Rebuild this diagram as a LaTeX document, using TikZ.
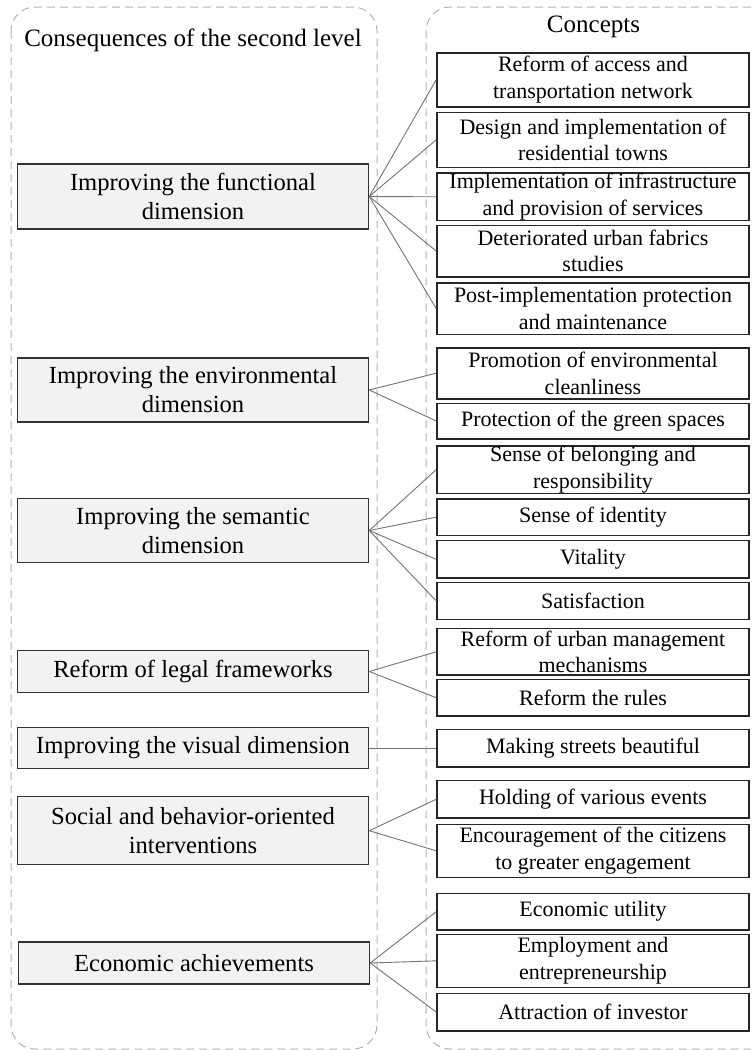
\documentclass[tikz,border=0pt]{standalone}
\usepackage{fontspec}
\setmainfont{Liberation Serif}

\begin{document}
\begin{tikzpicture}[x=0.5pt,y=-0.5pt,
    lvl/.style={draw=black!80,fill=black!5,line width=0.75pt,minimum width=175.5pt,inner xsep=2pt,inner ysep=0pt,align=center,font=\fontsize{12.3}{14.5}\selectfont},
    cpt/.style={draw=black!85,line width=0.8pt,minimum width=156pt,inner xsep=2pt,inner ysep=0pt,align=center,font=\fontsize{11}{13.3}\selectfont},
    head/.style={font=\fontsize{12.5}{15}\selectfont},
    link/.style={draw=black!55,line width=0.45pt},
    frame/.style={draw=black!30,dash pattern=on 4pt off 2.5pt,line width=0.5pt,rounded corners=12pt}]
    \useasboundingbox (0,0) rectangle (751,1050);

    \draw[frame] (11,7) rectangle (377,1049); \draw[frame] (751,7) -- (426,7) -- (426,1049) -- (751,1049);
    \node (T1) at (193,40) [head] {Consequences of the second level}; \node (T2) at (593.5,27) [head] {Concepts};

    \node (A) at (193,196.5) [lvl,minimum height=32.5pt] {Improving the functional\\dimension}; \node (B) at (193,390) [lvl,minimum height=32pt] {Improving the environmental\\dimension}; \node (C) at (193,530.5) [lvl,minimum height=32pt] {Improving the semantic\\dimension}; \node (D) at (193,671.5) [lvl,minimum height=21pt] {Reform of legal frameworks};
    \node (E) at (193,748) [lvl,minimum height=20.5pt] {Improving the visual dimension}; \node (F) at (193,830.7) [lvl,minimum height=34pt] {Social and behavior-oriented\\interventions}; \node (G) at (194,963) [lvl,minimum height=21pt] {Economic achievements};

    \node (A1) at (593,79.7) [cpt,minimum height=27pt] {Reform of access and\\transportation network}; \node (A2) at (593,139.8) [cpt,minimum height=27.5pt] {Design and implementation of\\residential towns}; \node (A3) at (593,196.8) [cpt,minimum height=23.8pt] {Implementation of infrastructure\\and provision of services};
    \node (A4) at (593,251) [cpt,minimum height=25.7pt] {Deteriorated urban fabrics\\studies}; \node (A5) at (593,308.5) [cpt,minimum height=25.8pt] {Post-implementation protection\\and maintenance};
    \node (B1) at (593,373.2) [cpt,minimum height=25.5pt] {Promotion of environmental\\cleanliness}; \node (B2) at (593,421) [cpt,minimum height=17.7pt] {Protection of the green spaces};
    \node (C1) at (593,469.7) [cpt,minimum height=23.7pt] {Sense of belonging and\\responsibility}; \node (C2) at (593,517.2) [cpt,minimum height=18.2pt] {Sense of identity}; \node (C3) at (593,559.3) [cpt,minimum height=18.7pt] {Vitality}; \node (C4) at (593,600.8) [cpt,minimum height=18.5pt] {Satisfaction};
    \node (D1) at (593,651.8) [cpt,minimum height=23.2pt] {Reform of urban management\\mechanisms}; \node (D2) at (593,697.7) [cpt,minimum height=18.3pt] {Reform the rules};
    \node (E1) at (593,748) [cpt,minimum height=18.7pt] {Making streets beautiful};
    \node (F1) at (593,799.3) [cpt,minimum height=18.7pt] {Holding of various events}; \node (F2) at (593,850.8) [cpt,minimum height=26.5pt] {Encouragement of the citizens\\to greater engagement};
    \node (G1) at (593,911.7) [cpt,minimum height=18.3pt] {Economic utility}; \node (G2) at (593,960.8) [cpt,minimum height=26.5pt] {Employment and\\entrepreneurship}; \node (G3) at (593,1012) [cpt,minimum height=18.7pt] {Attraction of investor};

    \draw[link] (A.east) -- (A1.west); \draw[link] (A.east) -- (A2.west); \draw[link] (A.east) -- (A3.west); \draw[link] (A.east) -- (A4.west); \draw[link] (A.east) -- (A5.west);

    \draw[link] (B.east) -- (B1.west); \draw[link] (B.east) -- (B2.west);

    \draw[link] (C.east) -- (C1.west); \draw[link] (C.east) -- (C2.west); \draw[link] (C.east) -- (C3.west); \draw[link] (C.east) -- (C4.west);

    \draw[link] (D.east) -- (D1.west); \draw[link] (D.east) -- (D2.west); \draw[link] (E.east) -- (E1.west);

    \draw[link] (F.east) -- (F1.west); \draw[link] (F.east) -- (F2.west);

    \draw[link] (G.east) -- (G1.west); \draw[link] (G.east) -- (G2.west); \draw[link] (G.east) -- (G3.west);

\end{tikzpicture}
\end{document}
